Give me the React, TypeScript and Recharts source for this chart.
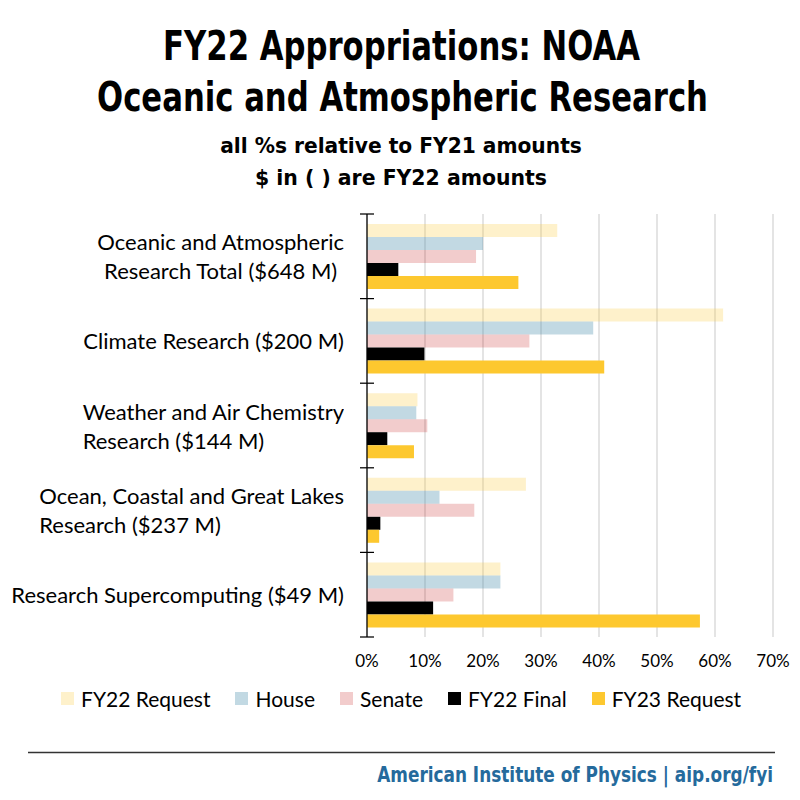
import React, { useLayoutEffect, useRef, useState } from "react";
import { BarChart, Bar, XAxis, YAxis, CartesianGrid } from "recharts";

const categories = [
  "Oceanic and Atmospheric\nResearch Total ($648 M)",
  "Climate Research ($200 M)",
  "Weather and Air Chemistry\nResearch ($144 M)",
  "Ocean, Coastal and Great Lakes\nResearch ($237 M)",
  "Research Supercomputing ($49 M)",
];
const labelAlign = ["center", "left", "left", "left", "left"];

const fy22Request = [32.8, 61.4, 8.7, 27.4, 23.0];
const house = [20.0, 39.0, 8.5, 12.5, 23.0];
const senate = [18.8, 28.0, 10.4, 18.5, 14.9];
const fy22Final = [5.4, 9.9, 3.5, 2.3, 11.4];
const fy23Request = [26.1, 40.9, 8.1, 2.1, 57.4];

const xTicks = [0, 10, 20, 30, 40, 50, 60, 70];

const series = [
  { key: "fy22Request", name: "FY22 Request", values: fy22Request, color: "#fdc82f", opacity: 0.25 },
  { key: "house", name: "House", values: house, color: "#4f93b0", opacity: 0.35 },
  { key: "senate", name: "Senate", values: senate, color: "#c00000", opacity: 0.2 },
  { key: "fy22Final", name: "FY22 Final", values: fy22Final, color: "#000000", opacity: 1 },
  { key: "fy23Request", name: "FY23 Request", values: fy23Request, color: "#fdc82f", opacity: 1 },
];

const data = categories.map((name, i) => {
  const row: Record<string, any> = { name };
  series.forEach((s) => (row[s.key] = s.values[i]));
  return row;
});

const BODY_FONT = "Lato, 'Open Sans', sans-serif";
const NARROW_FONT = "'Liberation Sans Narrow', 'DejaVu Sans Condensed', 'Roboto', sans-serif";

const PLOT_TOP = 214;
const PLOT_BOTTOM = 637;
const AXIS_X = 367;
const BAND = (PLOT_BOTTOM - PLOT_TOP) / categories.length;

// squeeze a heading to the width it has in the reference (condensed face isn't installed)
function FitText({ x, y, width, anchor, size, color, children }: any) {
  const ref = useRef<SVGTextElement>(null);
  const [sx, setSx] = useState(1);
  useLayoutEffect(() => {
    if (ref.current) {
      const w = ref.current.getComputedTextLength();
      if (w > 0) setSx(width / w);
    }
  }, [width]);
  return (
    <g transform={`translate(${x},${y}) scale(${sx},1)`}>
      <text ref={ref} x={0} y={0} textAnchor={anchor} fontFamily={NARROW_FONT} fontWeight="bold" fontSize={size} fill={color}>
        {children}
      </text>
    </g>
  );
}

function CategoryTick({ y, payload }: any) {
  const i = categories.indexOf(payload.value);
  const lines = String(payload.value).split("\n");
  const top = y - BAND / 2;
  return (
    <g>
      <line x1={AXIS_X - 7} x2={AXIS_X + 7} y1={top} y2={top} stroke="#000" strokeWidth={1.25} />
      {i === categories.length - 1 && (
        <line x1={AXIS_X - 7} x2={AXIS_X + 7} y1={top + BAND} y2={top + BAND} stroke="#000" strokeWidth={1.25} />
      )}
      <foreignObject x={0} y={y - 40} width={344} height={80}>
        <div
          style={{
            width: 344,
            height: 80,
            display: "flex",
            justifyContent: "flex-end",
            alignItems: "center",
          }}
        >
          <div
            style={{
              textAlign: labelAlign[i] as any,
              fontFamily: BODY_FONT,
              fontSize: 22,
              lineHeight: "29px",
              color: "#000",
              whiteSpace: "pre",
            }}
          >
            {lines.map((l, k) => (
              <div key={k}>{l}</div>
            ))}
          </div>
        </div>
      </foreignObject>
    </g>
  );
}

function PercentTick({ x, payload }: any) {
  return (
    <text x={x} y={PLOT_BOTTOM + 30} textAnchor="middle" fontFamily={BODY_FONT} fontSize={17} fill="#000">
      {`${payload.value}%`}
    </text>
  );
}

export default function App() {
  return (
    <div style={{ position: "absolute", left: 0, top: 0, width: 800, height: 800, background: "#fff" }}>
      <svg width={800} height={800} style={{ position: "absolute", left: 0, top: 0 }}>
        <FitText x={401.5} y={60} width={477} anchor="middle" size={41} color="#000">
          FY22 Appropriations: NOAA
        </FitText>
        <FitText x={402.5} y={111} width={611} anchor="middle" size={41} color="#000">
          Oceanic and Atmospheric Research
        </FitText>
        <FitText x={401} y={153} width={362} anchor="middle" size={22} color="#000">
          all %s relative to FY21 amounts
        </FitText>
        <FitText x={401} y={185} width={292} anchor="middle" size={22} color="#000">
          $ in ( ) are FY22 amounts
        </FitText>
        <line x1={28} x2={775} y1={752.5} y2={752.5} stroke="#333" strokeWidth={1.5} />
        <FitText x={773} y={782} width={396} anchor="end" size={22} color="#256a9c">
          American Institute of Physics | aip.org/fyi
        </FitText>
      </svg>

      <div style={{ position: "absolute", left: 0, top: 0 }}>
        <BarChart
          width={800}
          height={800}
          data={data}
          layout="vertical"
          margin={{ top: PLOT_TOP, right: 27, bottom: 800 - PLOT_BOTTOM - 30, left: 0 }}
          barGap={0}
          barSize={13}
        >
          <CartesianGrid horizontal={false} stroke="#d4d4d4" strokeWidth={1.25} />
          <XAxis
            type="number"
            domain={[0, 70]}
            ticks={xTicks}
            axisLine={false}
            tickLine={false}
            height={30}
            tick={<PercentTick />}
            interval={0}
          />
          <YAxis
            type="category"
            dataKey="name"
            width={AXIS_X}
            axisLine={{ stroke: "#000", strokeWidth: 1.25 }}
            tickLine={false}
            tick={<CategoryTick />}
            interval={0}
          />
          {series.map((s) => (
            <Bar key={s.key} dataKey={s.key} name={s.name} fill={s.color} fillOpacity={s.opacity} isAnimationActive={false} />
          ))}
        </BarChart>
      </div>

      <div
        style={{
          position: "absolute",
          left: 61,
          top: 686,
          display: "flex",
          alignItems: "center",
          fontFamily: BODY_FONT,
          fontSize: 21,
          color: "#000",
          whiteSpace: "nowrap",
        }}
      >
        {series.map((s) => (
          <div key={s.key} style={{ display: "flex", alignItems: "center", marginRight: 25 }}>
            <span
              style={{ display: "inline-block", width: 13, height: 13, background: s.color, opacity: s.opacity, marginRight: 7 }}
            />
            <span>{s.name}</span>
          </div>
        ))}
      </div>
    </div>
  );
}
